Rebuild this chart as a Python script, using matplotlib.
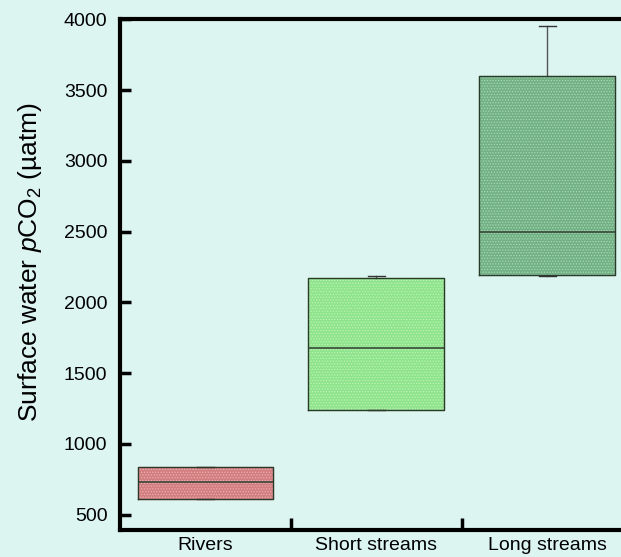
import matplotlib
matplotlib.use("Agg")
import matplotlib.pyplot as plt

plt.rcParams['font.family'] = ['Liberation Sans', 'DejaVu Sans']
plt.rcParams['mathtext.fontset'] = 'custom'
plt.rcParams['mathtext.rm'] = 'Liberation Sans'
plt.rcParams['mathtext.it'] = 'Liberation Sans:italic'
plt.rcParams['hatch.linewidth'] = 0.6

categories = ["Rivers", "Short streams", "Long streams"]
whislo = [610, 1240, 2190]
q1 = [610, 1243, 2195]
med = [730, 1680, 2500]
q3 = [840, 2172, 3600]
whishi = [840, 2187, 3952]

face_colors = ["#d27d80", "#8ee48b", "#72b184"]
hatch_colors = ["#eeaeb0", "#c0f2bc", "#a8d8b5"]
bg = "#ddf5f1"

stats = []
for i, name in enumerate(categories):
    stats.append({"label": name, "whislo": whislo[i], "q1": q1[i], "med": med[i],
                  "q3": q3[i], "whishi": whishi[i], "fliers": []})

fig = plt.figure(figsize=(6.21, 5.57), dpi=100, facecolor=bg)
ax = fig.add_axes([0.1932, 0.0485, 0.826, 0.9165], facecolor=bg)

bp = ax.bxp(stats, positions=range(3), widths=0.795, patch_artist=True,
            showfliers=False,
            medianprops=dict(color="#3a4a3a", linewidth=1.2),
            whiskerprops=dict(color="#555555", linewidth=1.0),
            capprops=dict(color="#333333", linewidth=1.0),
            capwidths=0.1,
            boxprops=dict(linewidth=1.0))

for box, fc, hc in zip(bp["boxes"], face_colors, hatch_colors):
    box.set_facecolor(fc)
    box.set_edgecolor(hc)
    box.set_hatch("......")
    # dark outline drawn over the dotted face
    x, y = box.get_path().vertices.T
    ax.plot(x, y, color="#2a3a2a", linewidth=1.0, zorder=box.get_zorder() + 0.1)

ax.set_xlim(-0.5, 2.5)
ax.set_ylim(392, 4000)
ax.set_yticks([500, 1000, 1500, 2000, 2500, 3000, 3500, 4000])
ax.set_xticks(range(3))
ax.set_xticklabels(categories)
ax.set_xticks([0.5, 1.5], minor=True)

ax.tick_params(axis="y", direction="in", length=8, width=2.5, labelsize=14, pad=9)
ax.tick_params(axis="x", which="major", length=0, labelsize=14, pad=5)
ax.tick_params(axis="x", which="minor", direction="in", length=9, width=2.5)

for side in ["left", "bottom", "top"]:
    ax.spines[side].set_linewidth(3)
ax.spines["right"].set_visible(False)

fig.text(30 / 621, 1 - 262 / 557, r"Surface water $\mathit{p}$CO$_2$ (µatm)",
         rotation=90, ha="center", va="center", fontsize=19)

fig.savefig("out.png", dpi=100, facecolor=bg)
